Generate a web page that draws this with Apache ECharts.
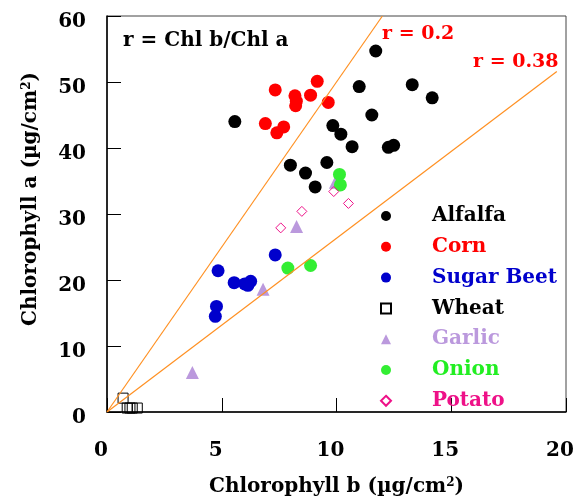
<!DOCTYPE html>
<html>
<head>
<meta charset="utf-8">
<script src="https://cdn.jsdelivr.net/npm/echarts@6/dist/echarts.min.js"></script>
<style>
  html, body { margin: 0; padding: 0; background: #fff; }
  #chart { width: 579px; height: 504px; }
</style>
</head>
<body>
<div id="chart"></div>
<script>
// Chl b (x) and Chl a (y) in ug/cm2
var alfalfaB = [5.57, 7.99, 8.65, 9.07, 9.58, 9.84, 10.19, 10.68, 10.99, 11.54, 11.71, 12.26, 12.49, 13.30, 14.17];
var alfalfaA = [44.0, 37.4, 36.2, 34.1, 37.8, 43.4, 42.1, 40.2, 49.3, 45.0, 54.7, 40.1, 40.4, 49.6, 47.6];
var cornB = [6.90, 7.33, 7.40, 7.70, 8.19, 8.22, 8.25, 8.87, 9.16, 9.64];
var cornA = [43.7, 48.8, 42.3, 43.2, 47.9, 46.4, 47.1, 48.0, 50.1, 46.9];
var beetB = [4.72, 4.77, 4.84, 5.54, 6.00, 6.14, 6.26, 7.33];
var beetA = [14.5, 16.0, 21.4, 19.6, 19.4, 19.2, 19.8, 23.8];
var wheatB = [0.70, 0.88, 1.00, 1.10, 1.32];
var wheatA = [2.1, 0.6, 0.6, 0.6, 0.6];
var garlicB = [3.72, 6.80, 8.26, 9.95];
var garlicA = [6.0, 18.6, 28.1, 34.8];
var onionB = [7.88, 8.87, 10.13, 10.17];
var onionA = [21.8, 22.2, 36.0, 34.4];
var potatoB = [7.57, 8.49, 9.88, 10.52];
var potatoA = [27.9, 30.4, 33.4, 31.6];

// reference lines r = Chl b / Chl a
var line02 = [[0, 0], [12, 60]];
var line038 = [[0, 0], [19.6, 51.6]];

var xTicks = [0, 5, 10, 15, 20];
var yTicks = [0, 10, 20, 30, 40, 50, 60];

var FONT = '"DejaVu Serif", "Liberation Serif", serif';

function pairs(xs, ys) {
  return xs.map(function (v, i) { return [v, ys[i]]; });
}

var chart = echarts.init(document.getElementById('chart'));

var supStyle = { fontSize: 12, fontFamily: FONT, fontWeight: 'bold', verticalAlign: 'top', color: '#000' };

var option = {
  animation: false,
  grid: {
    left: 107, right: 13, top: 16, bottom: 92,
    show: true, borderColor: '#444', borderWidth: 1
  },
  xAxis: {
    type: 'value',
    min: xTicks[0], max: xTicks[xTicks.length - 1], interval: 5,
    splitLine: { show: false },
    axisLine: { lineStyle: { color: '#000', width: 1.5 } },
    axisTick: { inside: true, length: 14, lineStyle: { color: '#000' } },
    axisLabel: {
      margin: 29, color: '#000', fontFamily: FONT, fontWeight: 'bold', fontSize: 20,
      padding: [0, 12, 0, 0]
    },
    name: 'Chlorophyll b (µg/cm{sup|2})',
    nameLocation: 'middle',
    nameGap: 65,
    nameTextStyle: {
      color: '#000', fontFamily: FONT, fontWeight: 'bold', fontSize: 20,
      rich: { sup: supStyle }
    }
  },
  yAxis: {
    type: 'value',
    min: yTicks[0], max: yTicks[yTicks.length - 1], interval: 10,
    splitLine: { show: false },
    axisLine: { lineStyle: { color: '#000', width: 1.5 } },
    axisTick: { inside: true, length: 14, lineStyle: { color: '#000' } },
    axisLabel: {
      margin: 21, color: '#000', fontFamily: FONT, fontWeight: 'bold', fontSize: 20,
      verticalAlign: 'top', lineHeight: 12
    },
    name: 'Chlorophyll a (µg/cm{sup|2})',
    nameLocation: 'middle',
    nameGap: 66,
    nameTextStyle: {
      color: '#000', fontFamily: FONT, fontWeight: 'bold', fontSize: 20, padding: [0, 0, 0, 30],
      rich: { sup: supStyle }
    }
  },
  legend: {
    orient: 'vertical',
    left: 380, top: 206,
    padding: 0,
    itemGap: 10.8,
    itemWidth: 10, itemHeight: 10,
    textStyle: { fontFamily: FONT, fontWeight: 'bold', fontSize: 20, lineHeight: 20, padding: [0, 0, 0, 36] },
    data: [
      { name: 'Alfalfa', textStyle: { color: '#000' } },
      { name: 'Corn', textStyle: { color: '#ff0000' } },
      { name: 'Sugar Beet', textStyle: { color: '#0000cc' } },
      { name: 'Wheat', textStyle: { color: '#000' } },
      { name: 'Garlic', textStyle: { color: '#bb99dd' } },
      { name: 'Onion', textStyle: { color: '#22ee22' } },
      { name: 'Potato', textStyle: { color: '#ee1188' } }
    ]
  },
  graphic: [
    { type: 'text', left: 123, top: 31, style: { text: 'r = Chl b/Chl a', font: 'bold 20px ' + FONT, fill: '#000' } },
    { type: 'text', left: 382, top: 25, style: { text: 'r = 0.2', font: 'bold 19px ' + FONT, fill: '#ff0000' } },
    { type: 'text', left: 473, top: 53, style: { text: 'r = 0.38', font: 'bold 19px ' + FONT, fill: '#ff0000' } }
  ],
  series: [
    {
      name: 'r=0.2', type: 'line', data: line02, symbol: 'none', silent: true,
      lineStyle: { color: '#ff9022', width: 1.2 }
    },
    {
      name: 'r=0.38', type: 'line', data: line038, symbol: 'none', silent: true,
      lineStyle: { color: '#ff9022', width: 1.2 }
    },
    {
      name: 'Alfalfa', type: 'scatter', data: pairs(alfalfaB, alfalfaA),
      symbol: 'circle', symbolSize: 13, itemStyle: { color: '#000', opacity: 1 }
    },
    {
      name: 'Corn', type: 'scatter', data: pairs(cornB, cornA),
      symbol: 'circle', symbolSize: 13, itemStyle: { color: '#ff0000', opacity: 1 }
    },
    {
      name: 'Sugar Beet', type: 'scatter', data: pairs(beetB, beetA),
      symbol: 'circle', symbolSize: 13, itemStyle: { color: '#0000cc', opacity: 1 }
    },
    {
      name: 'Wheat', type: 'scatter', data: pairs(wheatB, wheatA),
      symbol: 'rect', symbolSize: 10,
      itemStyle: { color: 'rgba(255,255,255,0)', borderColor: '#000', borderWidth: 1, opacity: 1 }
    },
    {
      name: 'Garlic', type: 'scatter', data: pairs(garlicB, garlicA),
      symbol: 'triangle', symbolSize: 13, itemStyle: { color: '#bb99dd', opacity: 1 }
    },
    {
      name: 'Onion', type: 'scatter', data: pairs(onionB, onionA),
      symbol: 'circle', symbolSize: 13, itemStyle: { color: '#33ee33', opacity: 1 }
    },
    {
      name: 'Potato', type: 'scatter', data: pairs(potatoB, potatoA),
      symbol: 'diamond', symbolSize: 10,
      itemStyle: { color: 'rgba(255,255,255,0)', borderColor: '#ee1188', borderWidth: 1, opacity: 1 }
    }
  ]
};

chart.setOption(option);
</script>
</body>
</html>
